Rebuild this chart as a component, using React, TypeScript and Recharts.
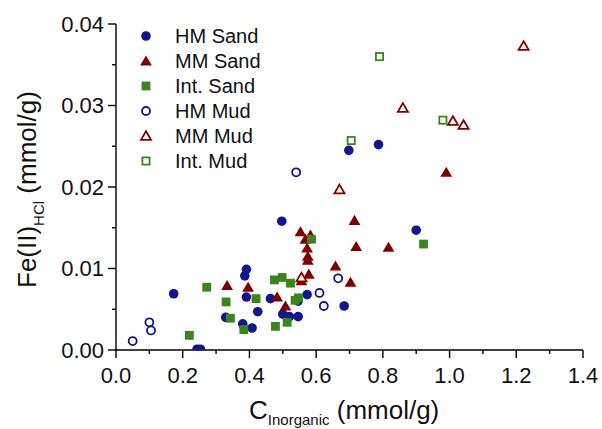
import React from 'react';
import { ScatterChart, Scatter, XAxis, YAxis, Legend } from 'recharts';

const FONT = 'Liberation Sans, Arial, Helvetica, sans-serif';

const NAVY = '#14148c';
const RED = '#800000';
const GREEN = '#3a861d';

// [C_inorganic, Fe(II)_HCl]
const hmSand: number[][] = [
  [0.173, 0.0069], [0.243, 0.0001], [0.253, 0.0001], [0.329, 0.004], [0.38, 0.0032],
  [0.408, 0.0027], [0.386, 0.0091], [0.391, 0.0099], [0.391, 0.0065], [0.425, 0.0047],
  [0.463, 0.0063], [0.5, 0.0044], [0.52, 0.0041], [0.546, 0.0041], [0.497, 0.0158],
  [0.546, 0.006], [0.573, 0.0068], [0.684, 0.0054], [0.698, 0.0245], [0.787, 0.0252],
  [0.9, 0.0147],
];
const mmSand: number[][] = [
  [0.333, 0.0079], [0.396, 0.0077], [0.483, 0.0065], [0.508, 0.0054], [0.556, 0.0085],
  [0.578, 0.0093], [0.553, 0.0145], [0.583, 0.0141], [0.568, 0.0136], [0.573, 0.0125],
  [0.575, 0.0115], [0.575, 0.011], [0.658, 0.0103], [0.703, 0.0083], [0.715, 0.0159],
  [0.72, 0.0127], [0.817, 0.0126], [0.99, 0.0218],
];
const intSand: number[][] = [
  [0.22, 0.0018], [0.272, 0.0077], [0.33, 0.0059], [0.343, 0.0039], [0.383, 0.0025],
  [0.42, 0.0063], [0.475, 0.0086], [0.498, 0.0089], [0.523, 0.0082], [0.478, 0.0029],
  [0.513, 0.0034], [0.537, 0.0061], [0.547, 0.0064], [0.586, 0.0136], [0.922, 0.013],
];
const hmMud: number[][] = [
  [0.05, 0.0011], [0.1, 0.0034], [0.105, 0.0024], [0.54, 0.0218], [0.61, 0.007],
  [0.623, 0.0054], [0.666, 0.0088],
];
const mmMud: number[][] = [
  [0.556, 0.0089], [0.67, 0.0197], [0.86, 0.0297], [1.01, 0.0281], [1.042, 0.0276],
  [1.222, 0.0373],
];
const intMud: number[][] = [
  [0.705, 0.0257], [0.79, 0.036], [0.98, 0.0282],
];

const xTicks = [0, 0.1, 0.2, 0.3, 0.4, 0.5, 0.6, 0.7, 0.8, 0.9, 1.0, 1.1, 1.2, 1.3, 1.4];
const yTicks = [0, 0.005, 0.01, 0.015, 0.02, 0.025, 0.03, 0.035, 0.04];

type Kind = 'circle' | 'triangle' | 'square';
interface SeriesDef { name: string; data: number[][]; kind: Kind; color: string; open: boolean; }

const series: SeriesDef[] = [
  { name: 'HM Sand', data: hmSand, kind: 'circle', color: NAVY, open: false },
  { name: 'MM Sand', data: mmSand, kind: 'triangle', color: RED, open: false },
  { name: 'Int. Sand', data: intSand, kind: 'square', color: GREEN, open: false },
  { name: 'HM Mud', data: hmMud, kind: 'circle', color: NAVY, open: true },
  { name: 'MM Mud', data: mmMud, kind: 'triangle', color: RED, open: true },
  { name: 'Int. Mud', data: intMud, kind: 'square', color: GREEN, open: true },
];

function Marker({ cx, cy, kind, color, open }: { cx: number; cy: number; kind: Kind; color: string; open: boolean }) {
  if (cx == null || cy == null || isNaN(cx) || isNaN(cy)) return null;
  const fill = open ? '#fff' : color;
  const sw = open ? 1.8 : 0;
  if (kind === 'circle') {
    const r = open ? 4.0 : 4.8;
    return <circle cx={cx} cy={cy} r={r} fill={fill} stroke={color} strokeWidth={sw} />;
  }
  if (kind === 'triangle') {
    const h = open ? 4.8 : 5.6;
    const pts = `${cx},${cy - h} ${cx + h * 1.05},${cy + h * 0.8} ${cx - h * 1.05},${cy + h * 0.8}`;
    return <polygon points={pts} fill={fill} stroke={color} strokeWidth={sw} strokeLinejoin="miter" />;
  }
  const s = open ? 3.6 : 4.4;
  return <rect x={cx - s} y={cy - s} width={2 * s} height={2 * s} fill={fill} stroke={color} strokeWidth={sw} />;
}

const XTick = (props: any) => {
  const { x, y, payload } = props;
  const v = payload.value as number;
  const major = Math.round(v * 10) % 2 === 0;
  return (
    <g>
      <line x1={x} x2={x} y1={y} y2={y + (major ? 8 : 4)} stroke="#000" strokeWidth={1.4} />
      {major && (
        <text x={x} y={y + 33} textAnchor="middle" fontSize={22} fill="#111" fontFamily={FONT}>
          {v.toFixed(1)}
        </text>
      )}
    </g>
  );
};

const YTick = (props: any) => {
  const { x, y, payload } = props;
  const v = payload.value as number;
  const major = Math.round(v * 1000) % 10 === 0;
  return (
    <g>
      <line x1={x} x2={x - (major ? 8 : 4)} y1={y} y2={y} stroke="#000" strokeWidth={1.4} />
      {major && (
        <text x={x - 12} y={y} dy="0.36em" textAnchor="end" fontSize={22} fill="#111" fontFamily={FONT}>
          {v.toFixed(2)}
        </text>
      )}
    </g>
  );
};

const XLabel = () => (
  <text x={249} y={419} textAnchor="start" fill="#111" fontFamily={FONT}>
    <tspan fontSize={26}>C</tspan>
    <tspan fontSize={15} dy={6}>Inorganic</tspan>
    <tspan fontSize={26} dy={-6}> (mmol/g)</tspan>
  </text>
);

const YLabel = () => (
  <text x={36} y={288} transform="rotate(-90, 36, 288)" textAnchor="start" fill="#111" fontFamily={FONT}>
    <tspan fontSize={26}>Fe(II)</tspan>
    <tspan fontSize={15} dy={8}>HCl</tspan>
    <tspan fontSize={26} dy={-8}> (mmol/g)</tspan>
  </text>
);

const renderLegend = () => (
  <svg width={160} height={160} style={{ display: 'block' }}>
    {series.map((s, i) => (
      <g key={s.name}>
        <Marker cx={11} cy={12 + i * 25} kind={s.kind} color={s.color} open={s.open} />
        <text x={40} y={12 + i * 25} dy="0.36em" fontSize={20} fill="#111" fontFamily={FONT}>
          {s.name}
        </text>
      </g>
    ))}
  </svg>
);

export default function App() {
  return (
    <div style={{ position: 'absolute', left: 0, top: 0, width: 602, height: 429, background: '#fff' }}>
      <ScatterChart width={602} height={429} margin={{ top: 24, right: 19, bottom: 0, left: 0 }}>
        <XAxis
          type="number"
          dataKey="x"
          domain={[0, 1.4]}
          ticks={xTicks}
          interval={0}
          tick={<XTick />}
          tickLine={false}
          tickSize={0}
          tickMargin={0}
          axisLine={{ stroke: '#000', strokeWidth: 1.4 }}
          height={79}
          label={{ content: () => <XLabel /> }}
        />
        <YAxis
          type="number"
          dataKey="y"
          domain={[0, 0.04]}
          allowDataOverflow
          ticks={yTicks}
          interval={0}
          tick={<YTick />}
          tickLine={false}
          tickSize={0}
          tickMargin={0}
          axisLine={{ stroke: '#000', strokeWidth: 1.4 }}
          width={116}
          label={{ content: () => <YLabel /> }}
        />
        <Legend
          layout="vertical"
          align="center"
          verticalAlign="middle"
          content={renderLegend}
          wrapperStyle={{ position: 'absolute', left: 135, top: 24, width: 160, height: 160 }}
        />
        {series.map((s) => (
          <Scatter
            key={s.name}
            name={s.name}
            data={s.data.map(([x, y]) => ({ x, y }))}
            isAnimationActive={false}
            shape={(p: any) => <Marker cx={p.cx} cy={p.cy} kind={s.kind} color={s.color} open={s.open} />}
          />
        ))}
      </ScatterChart>
    </div>
  );
}
